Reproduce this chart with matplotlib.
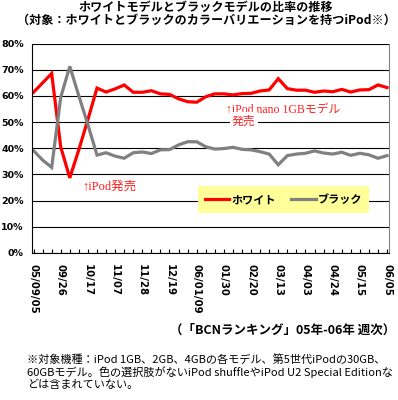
import matplotlib
matplotlib.use("Agg")
import matplotlib.pyplot as plt
import numpy as np

plt.rcParams['font.family'] = ['Noto Sans CJK JP', 'DejaVu Sans']

# weekly share (%), 05/09/05 .. 06/06/05
white = [61.4, 65.0, 68.6, 40.5, 28.7, 39.5, 51.0, 63.0, 61.5, 62.7,
         64.2, 61.4, 61.4, 62.0, 60.8, 60.6, 58.9, 57.8, 57.6, 59.7,
         60.8, 60.8, 60.4, 60.9, 61.0, 61.9, 62.3, 66.6, 62.8, 62.2,
         62.2, 61.4, 61.9, 61.6, 62.5, 61.5, 62.3, 62.4, 64.2, 63.2]
black = [39.1, 35.5, 32.7, 59.5, 71.3, 60.0, 49.0, 37.4, 38.3, 37.0,
         36.2, 38.3, 38.6, 38.0, 39.4, 39.5, 41.3, 42.5, 42.5, 40.6,
         39.7, 39.9, 40.4, 39.6, 39.4, 38.7, 37.8, 33.7, 37.2, 37.8,
         38.1, 39.0, 38.2, 37.8, 38.5, 37.3, 38.1, 37.5, 36.2, 37.2]
week_labels = ['05/09/05', '09/26', '10/17', '11/07', '11/28', '12/19',
               '06/01/09', '01/30', '02/20', '03/13', '04/03', '04/24',
               '05/15', '06/05']
y_ticks = [0, 10, 20, 30, 40, 50, 60, 70, 80]

fig = plt.figure(figsize=(3.98, 4.0), dpi=100)
ax = fig.add_axes([0.0804, 0.3675, 0.8966, 0.5235])

x = np.arange(len(white))
ax.plot(x, white, color='#FF0000', lw=2.3, label='ホワイト', solid_joinstyle='miter')
ax.plot(x, black, color='#808080', lw=2.3, label='ブラック', solid_joinstyle='miter')

ax.set_xlim(-0.17, 39.2)
ax.set_ylim(0, 80)
ax.set_yticks(y_ticks)
ax.set_yticklabels(['%d%%' % v for v in y_ticks], fontsize=6.8, fontweight='bold',
                   family=['DejaVu Sans'])
ax.yaxis.grid(True, color='black', lw=0.8)
ax.set_axisbelow(True)
ax.tick_params(axis='y', length=0, pad=6)

ax.set_xticks(np.arange(0, len(white), 3))
ax.set_xticklabels(week_labels, rotation=-90, fontsize=7.3, fontweight='bold',
                   family=['DejaVu Sans'])
ax.set_xticks(x, minor=True)
ax.tick_params(axis='x', which='both', direction='in', length=3, width=0.8, pad=8)

ax.spines['top'].set_visible(False)
ax.spines['right'].set_color('#808080')
ax.spines['left'].set_linewidth(0.8)
ax.spines['bottom'].set_linewidth(0.8)

ax.text(5.35, 25.2, '↑iPod発売', color='#FF2020', fontsize=9, va='center',
        family=['Liberation Serif', 'Noto Sans CJK JP'])
ax.text(21.25, 54.8, '↑iPod nano 1GBモデル', color='#FF2020', fontsize=8.5,
        va='center', family=['Liberation Serif', 'Noto Sans CJK JP'])
ax.text(21.9, 50.5, '発売', color='#FF2020', fontsize=8.5, va='center',
        bbox=dict(facecolor='white', edgecolor='none', pad=1.5))

leg = ax.legend(loc='center', bbox_to_anchor=(0.705, 0.255), ncol=2,
                frameon=True, fancybox=False, handlelength=2.2,
                columnspacing=1.4, handletextpad=0.2, borderpad=0.6,
                prop={'size': 8, 'weight': 'bold'})
leg.get_frame().set_facecolor('#FFFF99')
leg.get_frame().set_edgecolor('none')
leg.get_frame().set_alpha(1)

fig.text(0.518, 1 - 7 / 400, 'ホワイトモデルとブラックモデルの比率の推移',
         ha='center', va='center', fontsize=8.7, fontweight='bold')
fig.text(0.518, 1 - 20 / 400, '（対象：ホワイトとブラックのカラーバリエーションを持つiPod※）',
         ha='center', va='center', fontsize=8.7, fontweight='bold')
fig.text(0.992, 1 - 330 / 400, '（「BCNランキング」05年-06年 週次）',
         ha='right', va='center', fontsize=9, fontweight='bold')

notes = ['※対象機種：iPod 1GB、2GB、4GBの各モデル、第5世代iPodの30GB、',
         '60GBモデル。色の選択肢がないiPod shuffleやiPod U2 Special Editionな',
         'どは含まれていない。']
for i, line in enumerate(notes):
    fig.text(0.068, 1 - (359.5 + 12.8 * i) / 400, line, ha='left', va='center',
             fontsize=8.0)

fig.savefig('out.png', dpi=100)
